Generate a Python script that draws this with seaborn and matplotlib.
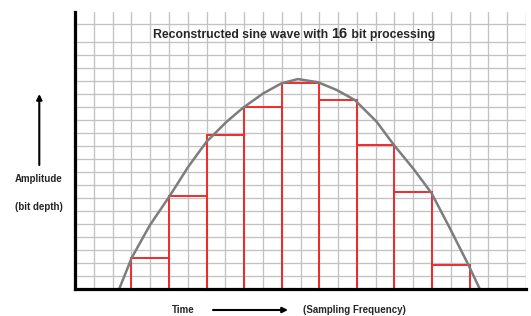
import numpy as np
import pandas as pd
import matplotlib
matplotlib.use('Agg')
import matplotlib.pyplot as plt
import seaborn as sns

# ==============================
# DATA (grid units: 1 col = 1 time step, 1 row = 1 level)
# ==============================
bar_left = [3, 5, 7, 9, 11, 13, 15, 17, 19]
bar_height = [2.41, 7.18, 11.85, 14.02, 15.86, 14.54, 11.08, 7.44, 1.85]

curve_x = [2.35, 3.02, 3.99, 5.05, 6.03, 7.0, 8.07, 8.95, 10.02, 10.99, 11.86,
           12.94, 13.92, 14.89, 16.05, 16.97, 17.99, 18.97, 19.95, 20.92, 21.54]
curve_y = [0.0, 2.41, 4.92, 7.18, 9.41, 11.33, 12.87, 13.95, 15.05, 15.82, 16.15,
           15.9, 15.31, 14.54, 12.87, 11.08, 9.28, 7.38, 4.67, 1.9, 0.0]

grid_cols = list(range(0, 25))
grid_rows = list(range(0, 20)) + [20.38]

W, H = 531, 316

# ==============================
# FIGURE
# ==============================
sns.set_style("white")
plt.rcParams['font.family'] = ['Liberation Sans', 'DejaVu Sans']

fig = plt.figure(figsize=(W / 100, H / 100), dpi=100)
ax = fig.add_axes([75 / W, 1 - 289 / H, (526 - 75) / W, (289 - 11.7) / H])
ax.set_xlim(0, 24)
ax.set_ylim(0, 21.33)

ax.set_xticks(grid_cols)
ax.set_yticks(grid_rows)
ax.set_xticklabels([])
ax.set_yticklabels([])
ax.tick_params(length=0)
ax.grid(True, color='#c2c2c2', lw=0.95)
ax.set_axisbelow(True)

for s in ['top', 'right']:
    ax.spines[s].set_visible(False)
for s in ['left', 'bottom']:
    ax.spines[s].set_linewidth(2.3)
    ax.spines[s].set_color('black')
    ax.spines[s].set_zorder(5)

# sample bars (outlined only)
ax.bar(bar_left, bar_height, width=2, align='edge', fill=False,
       edgecolor='#ee2b2b', linewidth=1.4, zorder=3)

# analogue curve
df = pd.DataFrame({'t': curve_x, 'amp': curve_y})
sns.lineplot(data=df, x='t', y='amp', ax=ax, color='#7d7d7d', lw=1.8,
             zorder=4, sort=False, solid_joinstyle='round')
ax.set_xlabel('')
ax.set_ylabel('')

# title with bigger "16"
t1 = fig.text(153 / W, 1 - 38.3 / H, 'Reconstructed sine wave with ',
              fontsize=8.8, fontweight='bold', va='baseline', ha='left')
t2 = ax.annotate('16', xy=(1, 0), xycoords=t1, fontsize=10.5,
                 fontweight='bold', va='bottom', ha='left')
t3 = ax.annotate(' bit processing', xy=(1, 0), xycoords=t2, fontsize=8.8,
                 fontweight='bold', va='bottom', ha='left')

# left labels
fig.text(38.5 / W, 1 - 179 / H, 'Amplitude', fontsize=7, fontweight='bold',
         ha='center', va='center')
fig.text(38.5 / W, 1 - 206.5 / H, '(bit depth)', fontsize=7, fontweight='bold',
         ha='center', va='center')
ax.annotate('', xy=(39.3 / W, 1 - 94 / H), xytext=(39.3 / W, 1 - 165 / H),
            xycoords='figure fraction', annotation_clip=False,
            arrowprops=dict(arrowstyle='-|>', lw=1.5, color='black',
                            mutation_scale=8, shrinkA=0, shrinkB=0))

# bottom labels
fig.text(183.5 / W, 1 - 310 / H, 'Time', fontsize=7, fontweight='bold',
         ha='center', va='center')
ax.annotate('', xy=(288 / W, 1 - 310 / H), xytext=(213 / W, 1 - 310 / H),
            xycoords='figure fraction', annotation_clip=False,
            arrowprops=dict(arrowstyle='-|>', lw=1.5, color='black',
                            mutation_scale=8, shrinkA=0, shrinkB=0))
fig.text(303 / W, 1 - 310 / H, '(Sampling Frequency)', fontsize=7,
         fontweight='bold', ha='left', va='center')

plt.savefig('out.png', dpi=100, facecolor='white')
plt.close()
